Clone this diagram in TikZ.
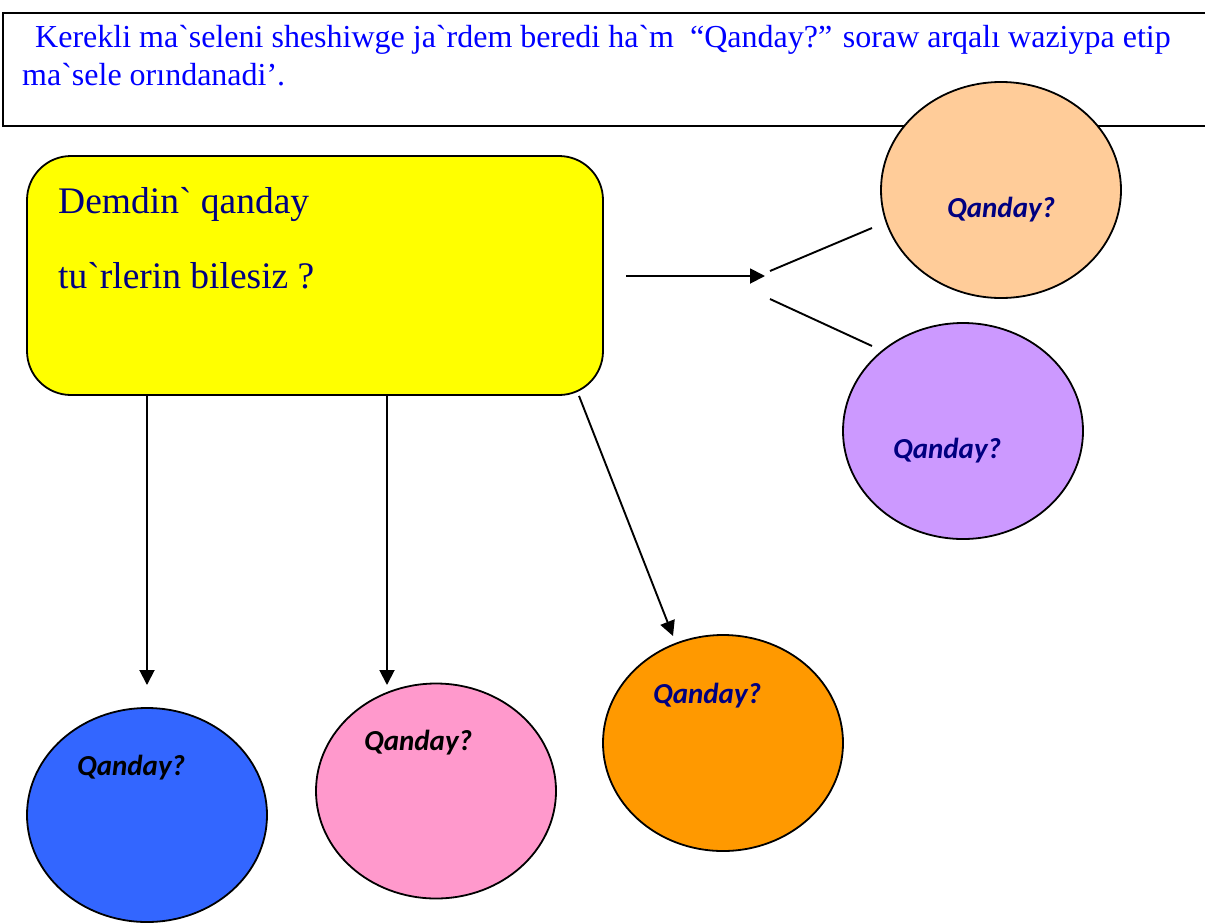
\documentclass[tikz,border=0pt]{standalone}
\usepackage{fontspec}
\setmainfont{Liberation Serif}
\newfontfamily\tnr{Liberation Serif}
\newfontfamily\qfont{Carlito}
\usetikzlibrary{arrows.meta,shapes.geometric}
\definecolor{topblue}{RGB}{0,0,255}
\definecolor{navytext}{RGB}{0,0,128}
\definecolor{boxyellow}{RGB}{255,255,0}
\definecolor{peach}{RGB}{255,204,153}
\definecolor{lilac}{RGB}{204,153,255}
\definecolor{bblue}{RGB}{51,102,255}
\definecolor{pinkc}{RGB}{255,153,204}
\definecolor{orangec}{RGB}{255,153,0}
\tikzset{
  bubble/.style={ellipse, draw=black, line width=1.8pt, minimum width=240pt, minimum height=216pt, inner sep=0pt},
  qlabel/.style={anchor=base west, inner sep=0pt, font=\qfont\bfseries\itshape\fontsize{29}{31}\selectfont},
  toptext/.style={anchor=base west, inner sep=0pt, text=topblue, font=\tnr\fontsize{32}{36}\selectfont},
  boxtext/.style={anchor=base west, inner sep=0pt, text=navytext, font=\tnr\fontsize{37.5}{40}\selectfont},
  arr/.style={line width=1.9pt, -{Triangle[length=15pt,width=15pt]}},
  plain/.style={line width=1.9pt},
  frame/.style={line width=2.8pt}
}
\begin{document}
\begin{tikzpicture}[x=1pt,y=-1pt]
\useasboundingbox (0,0) rectangle (1205,922);
% top frame
\coordinate (f1) at (1205,13);
\coordinate (f2) at (3,13);
\coordinate (f3) at (3,126);
\coordinate (f4) at (1205,126);
\draw[frame] (f1) -- (f2) -- (f3) -- (f4);
\node[toptext] (t1) at (35,47) {Kerekli ma`seleni sheshiwge ja`rdem beredi ha`m\ \ “Qanday?” soraw arqalı waziypa etip};
\node[toptext] (t2) at (22,85) {ma`sele orındanadi’.};
% yellow box
\node[draw=black, line width=1.8pt, fill=boxyellow, rounded corners=44pt, minimum width=576pt, minimum height=239pt, inner sep=0pt] (yb) at (315,275.5) {};
\node[boxtext] (b1) at (58,213) {Demdin` qanday};
\node[boxtext] (b2) at (58,288) {tu`rlerin bilesiz ?};
% bubbles
\node[bubble, fill=peach] (e1) at (1001,190) {};
\node[bubble, fill=lilac] (e2) at (963,431) {};
\node[bubble, fill=bblue, minimum height=214pt] (e3) at (147,815) {};
\node[bubble, fill=pinkc, minimum height=215pt] (e4) at (436,791) {};
\node[bubble, fill=orangec] (e5) at (723,743) {};
\node[qlabel, text=navytext] (q1) at (947,217) {Qanday?};
\node[qlabel, text=navytext] (q2) at (893,458) {Qanday?};
\node[qlabel, text=black] (q3) at (77,775) {Qanday?};
\node[qlabel, text=black] (q4) at (364,750) {Qanday?};
\node[qlabel, text=navytext] (q5) at (653,703) {Qanday?};
% connectors
\coordinate (r0) at (626,276);
\coordinate (r1) at (765,276);
\draw[arr] (r0) -- (r1);
\coordinate (u0) at (770,271);
\coordinate (u1) at (872,228);
\coordinate (l0) at (770,299);
\coordinate (l1) at (872,346);
\draw[plain] (u0) -- (u1);
\draw[plain] (l0) -- (l1);
\coordinate (d1) at (147,685);
\coordinate (d2) at (387,685);
\coordinate (d3s) at (579,395);
\coordinate (d3) at (673,636);
\draw[arr] (yb.south -| d1) -- (d1);
\draw[arr] (yb.south -| d2) -- (d2);
\draw[arr] (yb.south -| d3s) -- (d3);
\end{tikzpicture}
\end{document}
